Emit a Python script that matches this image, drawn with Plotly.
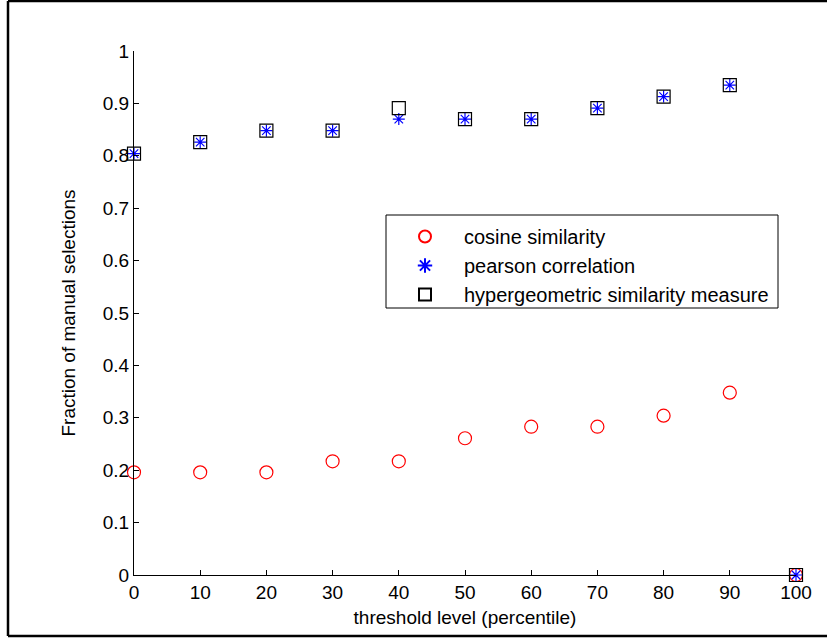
import plotly.graph_objects as go

thresholds = [0, 10, 20, 30, 40, 50, 60, 70, 80, 90, 100]
cosine = [0.196, 0.196, 0.196, 0.217, 0.217, 0.261, 0.283, 0.283, 0.304, 0.348, 0.0]
pearson = [0.804, 0.826, 0.848, 0.848, 0.870, 0.870, 0.870, 0.891, 0.913, 0.935, 0.0]
hyper = [0.804, 0.826, 0.848, 0.848, 0.891, 0.870, 0.870, 0.891, 0.913, 0.935, 0.0]
x_ticks = [0, 10, 20, 30, 40, 50, 60, 70, 80, 90, 100]
y_ticks = [0, 0.1, 0.2, 0.3, 0.4, 0.5, 0.6, 0.7, 0.8, 0.9, 1]
y_tick_text = ["0", "0.1", "0.2", "0.3", "0.4", "0.5", "0.6", "0.7", "0.8", "0.9", "1"]

W, H = 827, 638
L, R, T, B = 134, 31, 51, 63
pw, ph = W - L - R, H - T - B

def px(xp):
    return (xp - L) / pw

def py(yp):
    return (H - B - yp) / ph

fig = go.Figure()
fig.add_trace(go.Scatter(
    x=thresholds, y=cosine, mode="markers", name="cosine similarity",
    marker=dict(symbol="circle-open", size=13, color="#ff0000", line=dict(width=1.2)),
    cliponaxis=False))
fig.add_trace(go.Scatter(
    x=thresholds, y=pearson, mode="markers", name="pearson correlation",
    marker=dict(symbol="asterisk-open", size=10, color="#0000ff", line=dict(width=1.2, color="#0000ff")),
    cliponaxis=False))
fig.add_trace(go.Scatter(
    x=thresholds, y=hyper, mode="markers", name="hypergeometric similarity measure",
    marker=dict(symbol="square-open", size=13, color="#000000", line=dict(width=1.2)),
    cliponaxis=False))

font = "Liberation Sans, Arial, sans-serif"
fig.update_layout(
    width=W, height=H,
    margin=dict(l=L, r=R, t=T, b=B),
    paper_bgcolor="white", plot_bgcolor="white",
    font=dict(family=font, color="black", size=19),
    showlegend=True,
    legend=dict(
        x=px(386), y=py(217), xanchor="left", yanchor="top",
        borderwidth=0, bgcolor="rgba(0,0,0,0)",
        font=dict(family=font, size=20, color="black"),
        itemsizing="constant", tracegroupgap=0,
        itemwidth=68,
    ),
    xaxis=dict(
        range=[0, 100], tickvals=x_ticks, ticktext=[str(v) for v in x_ticks],
        showgrid=False, zeroline=False, showline=True, linecolor="black", linewidth=1,
        ticks="inside", ticklen=5, tickcolor="black",
        tickfont=dict(size=19, family=font),
        title=dict(text="threshold level (percentile)", font=dict(size=19, family=font), standoff=8),
    ),
    yaxis=dict(
        range=[0, 1], tickvals=y_ticks, ticktext=y_tick_text,
        showgrid=False, zeroline=False, showline=True, linecolor="black", linewidth=1,
        ticks="inside", ticklen=5, tickcolor="black",
        tickfont=dict(size=19, family=font),
        title=dict(text="Fraction of manual selections", font=dict(size=19, family=font), standoff=22),
    ),
)

# legend box
fig.add_shape(type="rect", xref="paper", yref="paper",
              x0=px(386), x1=px(778), y0=py(308), y1=py(215),
              line=dict(color="black", width=1), fillcolor="white", layer="below")

# outer figure border (left, top, bottom)
border = dict(type="line", xref="paper", yref="paper", line=dict(color="black", width=2.5))
fig.add_shape(**border, x0=px(8), x1=px(8), y0=py(1), y1=py(636))
fig.add_shape(**border, x0=px(8), x1=px(830), y0=py(1), y1=py(1))
fig.add_shape(**border, x0=px(8), x1=px(830), y0=py(636), y1=py(636))

fig.write_html("out.html")
